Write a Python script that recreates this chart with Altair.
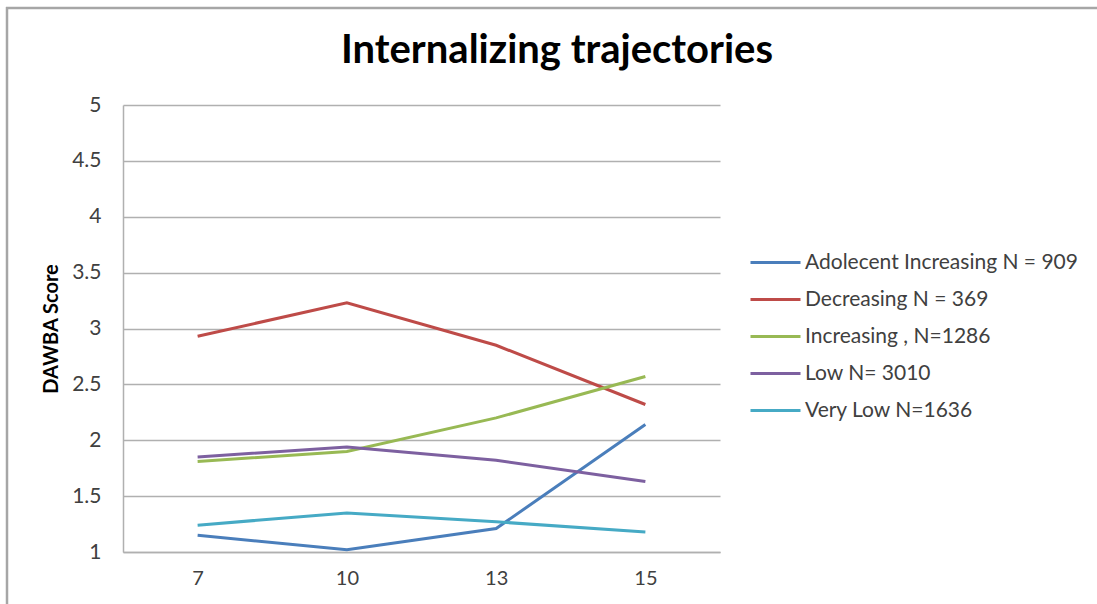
import altair as alt
import pandas as pd

ages = ["7", "10", "13", "15"]
series_names = [
    "Adolecent Increasing N = 909",
    "Decreasing N = 369",
    "Increasing , N=1286",
    "Low N= 3010",
    "Very Low N=1636",
]
adolescent_increasing = [1.15, 1.02, 1.21, 2.14]
decreasing = [2.93, 3.23, 2.85, 2.32]
increasing = [1.81, 1.90, 2.20, 2.57]
low = [1.85, 1.94, 1.82, 1.63]
very_low = [1.24, 1.35, 1.27, 1.18]
colors = ["#4a7ebb", "#be4b48", "#98b954", "#7d60a0", "#46aac5"]
y_ticks = [1, 1.5, 2, 2.5, 3, 3.5, 4, 4.5, 5]
title_text = "Internalizing trajectories"

all_series = [adolescent_increasing, decreasing, increasing, low, very_low]
rows = []
for name, vals in zip(series_names, all_series):
    for a, v in zip(ages, vals):
        rows.append({"age": a, "score": v, "series": name})
df = pd.DataFrame(rows)

FONT = "Lato"

lines = alt.Chart(df).mark_line(strokeWidth=3).encode(
    x=alt.X("age:O", sort=ages,
            scale=alt.Scale(type="point", padding=0.5),
            axis=alt.Axis(title=None, labelAngle=0, labelFontSize=20,
                          labelColor="#404040", labelPadding=16, ticks=False,
                          domainColor="#b0b0b0", domainWidth=1.5, grid=False)),
    y=alt.Y("score:Q", scale=alt.Scale(domain=[1, 5], nice=False, zero=False),
            axis=alt.Axis(title="DAWBA Score", values=y_ticks, format="~g",
                          labelFontSize=21, labelColor="#404040", labelPadding=22,
                          ticks=False, titleFontSize=20, titleFontWeight="bold",
                          titleColor="#000000", titlePadding=10,
                          domainColor="#b0b0b0", domainWidth=1.5,
                          gridColor="#b0b0b0", gridWidth=1.5)),
    color=alt.Color("series:N", sort=series_names,
                    scale=alt.Scale(domain=series_names, range=colors),
                    legend=alt.Legend(title=None, orient="none", legendX=626, legendY=131,
                                      symbolType="stroke", symbolSize=2500,
                                      symbolStrokeWidth=3, labelFontSize=21,
                                      labelColor="#404040", labelOffset=3,
                                      labelLimit=400, rowPadding=-12)),
)

frame_df = pd.DataFrame({"k": [0]})
frame_top = alt.Chart(frame_df).mark_rule(color="#a6a6a6", strokeWidth=2.5).encode(
    x=alt.value(-117), x2=alt.value(980), y=alt.value(-97)
)
frame_left = alt.Chart(frame_df).mark_rule(color="#a6a6a6", strokeWidth=2.5).encode(
    x=alt.value(-116), y=alt.value(-98), y2=alt.value(500)
)
title = alt.Chart(frame_df).mark_text(
    fontSize=40, fontWeight="bold", font=FONT, color="#000000",
    align="center", baseline="alphabetic"
).encode(x=alt.value(434), y=alt.value(-42), text=alt.value(title_text))

chart = alt.layer(frame_top, frame_left, title, lines).properties(
    width=597, height=447,
    autosize=alt.AutoSizeParams(type="none"),
    padding={"left": 123, "top": 105, "right": 377, "bottom": 52},
).configure(font=FONT, background="white").configure_view(stroke=None)

chart.save("out.html", embed_options={"renderer": "svg", "actions": False})
